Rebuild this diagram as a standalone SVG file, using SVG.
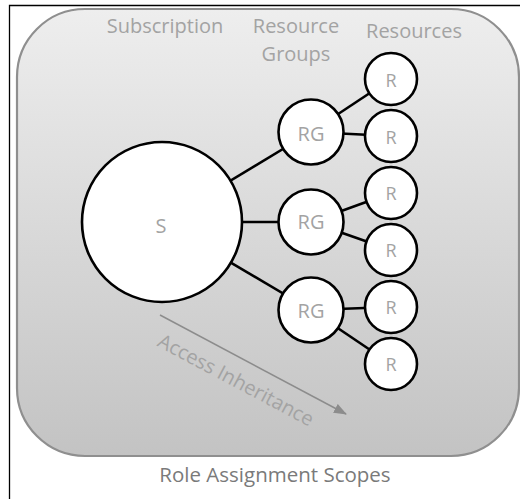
<svg xmlns="http://www.w3.org/2000/svg" width="520" height="499" viewBox="0 0 520 499">
  <defs>
    <linearGradient id="panelFill" x1="0" y1="0" x2="0" y2="1">
      <stop offset="0" stop-color="#eeeeee"/>
      <stop offset="1" stop-color="#c3c3c3"/>
    </linearGradient>
    <filter id="soft" x="-5%" y="-5%" width="110%" height="110%">
      <feGaussianBlur stdDeviation="0.6"/>
    </filter>
    <marker id="arrowHead" markerWidth="13" markerHeight="10" refX="12" refY="5" orient="auto" markerUnits="userSpaceOnUse">
      <path d="M0,0 L13,5 L0,10 Z" fill="#8c8c8c"/>
    </marker>
    <style>
      .lbl { font-family: "Open Sans", "Liberation Sans", sans-serif; fill: #a3a3a3; }
      .hdr { font-size: 20px; text-anchor: middle; }
      .node circle { fill: #ffffff; stroke: #000000; stroke-width: 2.6; }
      .node text { font-family: "Open Sans", "Liberation Sans", sans-serif; fill: #a3a3a3; text-anchor: middle; }
      .edge { stroke: #000000; stroke-width: 2.6; fill: none; }
    </style>
  </defs>

  <rect width="520" height="499" fill="#ffffff"/>
  <!-- outer frame -->
  <path d="M9.5,499 V5.5 H520" fill="none" stroke="#000000" stroke-width="1.3"/>

  <!-- scope panel -->
  <rect x="17" y="9" width="502" height="447" rx="68" ry="68" fill="url(#panelFill)" stroke="#8f8f8f" stroke-width="2.2" filter="url(#soft)"/>

  <!-- column headers -->
  <text class="lbl hdr" x="165" y="33">Subscription</text>
  <text class="lbl hdr" x="296" y="33">Resource</text>
  <text class="lbl hdr" x="296" y="61">Groups</text>
  <text class="lbl hdr" x="414" y="38">Resources</text>

  <!-- inheritance arrow -->
  <g id="inheritance">
    <line x1="160" y1="315" x2="346" y2="414" stroke="#8c8c8c" stroke-width="1.5" marker-end="url(#arrowHead)"/>
    <text class="lbl" font-size="20" text-anchor="middle" transform="translate(236,380) rotate(28)" dy="0.35em">Access Inheritance</text>
  </g>

  <!-- connectors -->
  <g id="connectors">
    <line class="edge" x1="162" y1="222" x2="311" y2="132"/>
    <line class="edge" x1="162" y1="222" x2="311" y2="222"/>
    <line class="edge" x1="162" y1="222" x2="311" y2="310"/>
    <line class="edge" x1="311" y1="132" x2="391" y2="79"/>
    <line class="edge" x1="311" y1="132" x2="391" y2="136"/>
    <line class="edge" x1="311" y1="222" x2="391" y2="193"/>
    <line class="edge" x1="311" y1="222" x2="391" y2="250"/>
    <line class="edge" x1="311" y1="310" x2="391" y2="307"/>
    <line class="edge" x1="311" y1="310" x2="391" y2="364"/>
  </g>

  <!-- subscription -->
  <g id="sub" class="node">
    <circle cx="162" cy="222" r="80"/>
    <text x="161" y="233" font-size="20">S</text>
  </g>

  <!-- resource groups -->
  <g id="rg1" class="node">
    <circle cx="311" cy="132" r="32.5"/>
    <text x="311" y="141" font-size="20">RG</text>
  </g>
  <g id="rg2" class="node">
    <circle cx="311" cy="222" r="32.5"/>
    <text x="311" y="229" font-size="20">RG</text>
  </g>
  <g id="rg3" class="node">
    <circle cx="311" cy="310" r="32.5"/>
    <text x="311" y="318" font-size="20">RG</text>
  </g>

  <!-- resources -->
  <g id="r1" class="node">
    <circle cx="391" cy="79" r="26"/>
    <text x="391" y="87" font-size="18">R</text>
  </g>
  <g id="r2" class="node">
    <circle cx="391" cy="136" r="26"/>
    <text x="391" y="144" font-size="18">R</text>
  </g>
  <g id="r3" class="node">
    <circle cx="391" cy="193" r="26"/>
    <text x="391" y="200" font-size="18">R</text>
  </g>
  <g id="r4" class="node">
    <circle cx="391" cy="250" r="26"/>
    <text x="391" y="257" font-size="18">R</text>
  </g>
  <g id="r5" class="node">
    <circle cx="391" cy="307" r="26"/>
    <text x="391" y="314" font-size="18">R</text>
  </g>
  <g id="r6" class="node">
    <circle cx="391" cy="364" r="26"/>
    <text x="391" y="371" font-size="18">R</text>
  </g>

  <!-- caption -->
  <text x="275" y="482" font-family="Open Sans, Liberation Sans, sans-serif" font-size="20.5" text-anchor="middle" fill="#7a7a7a">Role Assignment Scopes</text>
</svg>
